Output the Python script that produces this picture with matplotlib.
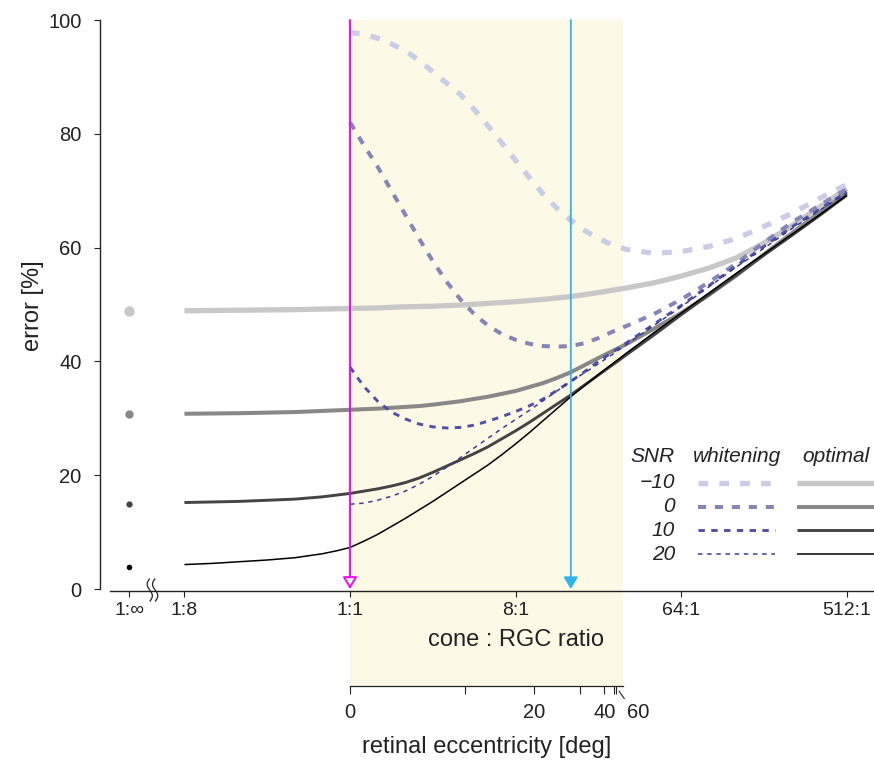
import numpy as np
import matplotlib
matplotlib.use("Agg")
import matplotlib.pyplot as plt
import matplotlib.transforms as mtransforms

plt.rcParams["font.family"] = ["Liberation Sans", "DejaVu Sans"]
plt.rcParams["lines.scale_dashes"] = False
plt.rcParams["lines.solid_capstyle"] = "butt"

# x axis is log2 of the cone:RGC ratio
ratio_ticks = [-4.0, -3, 0, 3, 6, 9]
ratio_labels = ["1:\u221e", "1:8", "1:1", "8:1", "64:1", "512:1"]
inf_x = -4.0
break_x = -3.58

# eccentricity [deg] and where it sits on the ratio axis
ecc_vals = [0, 10, 20, 30, 40, 50, 60]
ecc_pos = [0, 2.08, 3.33, 4.17, 4.61, 4.78, 4.81]
ecc_labelled = [0, 20, 40]
ecc_end = 4.94

marker_lines = [0.0, 4.0]  # magenta, cyan

snr_labels = ["\u221210", "0", "10", "20"]

x_white = [0, 0.25, 0.5, 0.75, 1, 1.25, 1.5, 1.75, 2, 2.25, 2.5, 2.75, 3,
           3.25, 3.5, 3.75, 4, 4.25, 4.5, 4.75, 5, 5.5, 6, 6.5, 7, 7.5, 8,
           8.5, 9]
white_m10 = [97.8, 97.5, 96.8, 95.8, 94.6, 92.9, 90.9, 88.9, 86.9, 84.3, 81.4,
             78.4, 75.3, 72.3, 69.4, 66.9, 64.8, 63.0, 61.6, 60.5, 59.7, 59.0,
             59.3, 60.2, 61.6, 63.7, 66.0, 68.6, 71.1]
white_0 = [82.0, 78.0, 74.2, 70.0, 65.8, 61.6, 57.6, 54.0, 50.9, 48.3, 46.3,
           44.8, 43.8, 43.1, 42.7, 42.6, 42.7, 43.2, 44.1, 45.2, 46.2, 48.3,
           50.9, 53.9, 57.2, 60.9, 64.4, 67.4, 70.3]
white_10 = [39.0, 35.6, 33.0, 31.1, 29.9, 29.0, 28.5, 28.3, 28.4, 28.8, 29.5,
            30.3, 31.2, 32.2, 33.4, 34.9, 36.5, 38.2, 40.0, 41.6, 43.2, 46.5,
            49.8, 53.3, 56.8, 60.2, 63.6, 66.7, 69.8]
white_20 = [14.9, 15.1, 15.6, 16.3, 17.2, 18.4, 19.8, 21.4, 23.1, 24.8, 26.5,
            28.2, 29.8, 31.4, 33.1, 34.8, 36.5, 38.0, 39.6, 41.2, 42.9, 46.3,
            49.6, 53.1, 56.6, 59.9, 63.3, 66.5, 69.6]

x_opt = [-3, -2.5, -2, -1.5, -1, -0.5, -0.25, 0, 0.25, 0.5, 0.75, 1, 1.25,
         1.5, 1.75, 2, 2.25, 2.5, 2.75, 3, 3.25, 3.5, 3.75, 4, 4.5, 5, 5.5,
         6, 6.5, 7, 7.5, 8, 8.5, 9]
opt_m10 = [48.9, 48.95, 49.0, 49.05, 49.1, 49.2, 49.25, 49.3, 49.35, 49.4,
           49.5, 49.6, 49.65, 49.7, 49.8, 49.9, 50.05, 50.2, 50.35, 50.5,
           50.7, 50.9, 51.15, 51.4, 52.1, 52.9, 53.8, 55.0, 56.4, 58.2, 60.8,
           63.8, 67.1, 70.4]
opt_0 = [30.8, 30.85, 30.9, 31.0, 31.1, 31.3, 31.4, 31.5, 31.6, 31.7, 31.85,
         32.0, 32.15, 32.4, 32.7, 33.0, 33.4, 33.8, 34.3, 34.8, 35.5, 36.2,
         37.1, 38.1, 40.6, 43.0, 45.7, 48.5, 51.7, 55.1, 58.8, 62.5, 66.1,
         69.6]
opt_10 = [15.2, 15.3, 15.4, 15.6, 15.8, 16.2, 16.5, 16.8, 17.2, 17.6, 18.1,
          18.7, 19.5, 20.5, 21.6, 22.7, 23.8, 25.0, 26.4, 27.8, 29.3, 30.9,
          32.5, 34.1, 37.6, 41.1, 44.6, 48.2, 51.7, 55.2, 58.7, 62.1, 65.6,
          69.2]
opt_20 = [4.3, 4.5, 4.8, 5.1, 5.5, 6.2, 6.7, 7.3, 8.4, 9.6, 11.0, 12.4, 13.9,
          15.4, 17.0, 18.6, 20.2, 21.8, 23.6, 25.5, 27.5, 29.6, 31.7, 33.8,
          37.7, 41.4, 45.0, 48.5, 52.0, 55.5, 58.9, 62.3, 65.7, 69.2]
inf_vals = [48.9, 30.7, 15.0, 3.9]

white_series = [white_m10, white_0, white_10, white_20]
opt_series = [opt_m10, opt_0, opt_10, opt_20]

white_colors = ["#cccce6", "#8585b8", "#5050a8", "#3c3c96"]
opt_colors = ["#c8c8c8", "#888888", "#444444", "#000000"]
widths = [3.8, 2.9, 2.1, 1.1]
dashes = [(7.0, 8.0), (5.8, 6.4), (4.6, 4.6), (3.2, 3.4)]
dot_sizes = [7.5, 6, 4.5, 4]

ink = "#222222"

fig = plt.figure(figsize=(8.74, 7.62), dpi=100)
W, H = 874, 762
ax = fig.add_axes([100 / W, 1 - 590.5 / H, 773 / W, 570.5 / H])
ax.set_xlim(-4.53, 9.475)
ax.set_ylim(-0.26, 100)

# shaded eccentricity range
ax.axvspan(0, ecc_end, ymin=-(686 - 590.5) / 570.5, ymax=1, color="#fdf9e7",
           lw=0, zorder=0, clip_on=False)

for ys, c, lw in zip(opt_series, opt_colors, widths):
    ax.plot(x_opt, ys, color=c, lw=lw, zorder=3)
for ys, c, lw, d in zip(white_series, white_colors, widths, dashes):
    ax.plot(x_white, ys, color=c, lw=lw, dashes=d, zorder=4)
for v, c, s in zip(inf_vals, opt_colors, dot_sizes):
    ax.plot([inf_x], [v], "o", color=c, ms=s, mec="none", zorder=3)

# vertical markers with arrow heads
ax.annotate("", xy=(marker_lines[0], 0), xytext=(marker_lines[0], 100),
            arrowprops=dict(arrowstyle="-|>,head_length=0.4,head_width=0.24",
                            mutation_scale=18, color="#ff00ff", fc="white",
                            lw=1.4, shrinkA=0, shrinkB=0),
            zorder=6, annotation_clip=False)
ax.annotate("", xy=(marker_lines[1], 0), xytext=(marker_lines[1], 100),
            arrowprops=dict(arrowstyle="-|>,head_length=0.4,head_width=0.24",
                            mutation_scale=18, color="#2cb5e8",
                            lw=1.3, shrinkA=0, shrinkB=0),
            zorder=6, annotation_clip=False)

for s in ["top", "right"]:
    ax.spines[s].set_visible(False)
ax.spines["left"].set_bounds(0, 100)
ax.spines["bottom"].set_bounds(-4.35, 9.475)
for s in ["left", "bottom"]:
    ax.spines[s].set_color(ink)
    ax.spines[s].set_linewidth(1.0)

ax.set_yticks([0, 20, 40, 60, 80, 100])
ax.set_xticks(ratio_ticks)
ax.set_xticklabels(ratio_labels)
ax.tick_params(axis="y", length=4.3, width=0.8, pad=9, labelsize=14.5,
               colors=ink)
ax.tick_params(axis="x", length=4.5, width=0.8, pad=3.5, labelsize=14,
               colors=ink)
ax.set_ylabel("error [%]", fontsize=17, color=ink, labelpad=3)

ax.text(3, (590.5 - 640) / 570.5, "cone : RGC ratio",
        transform=ax.get_xaxis_transform(),
        ha="center", va="center", fontsize=17, color=ink)

# axis break marks
t = np.linspace(0, 1, 60)
brk = fig.dpi_scale_trans + mtransforms.ScaledTranslation(
    break_x, 0, mtransforms.blended_transform_factory(ax.transData, ax.transAxes))
for off in (-0.027, 0.027):
    ax.plot(off + 0.026 * np.sin(2 * np.pi * t), -0.11 + 0.23 * t,
            color=ink, lw=0.9, transform=brk, clip_on=False, zorder=5)

# legend
def fx(px):
    return (px - 100) / 773


def fy(py):
    return (590.5 - py) / 570.5


lg = dict(transform=ax.transAxes, fontsize=15, style="italic", color=ink,
          va="center")
ax.text(fx(675), fy(456), "SNR", ha="right", **lg)
ax.text(fx(737), fy(456), "whitening", ha="center", **lg)
ax.text(fx(836), fy(456), "optimal", ha="center", **lg)
for i, lab in enumerate(snr_labels):
    yy = fy(483 + 23.7 * i)
    ax.text(fx(675), yy, lab, ha="right", **lg)
    ax.plot([fx(698), fx(775)], [yy, yy], transform=ax.transAxes,
            color=white_colors[i], lw=widths[i], dashes=dashes[i], clip_on=False)
    ax.plot([fx(797), fx(874)], [yy, yy], transform=ax.transAxes,
            color=opt_colors[i], lw=widths[i], clip_on=False)

# eccentricity axis
ax2 = fig.add_axes([100 / W, 1 - 686 / H, 773 / W, 0.0001])
ax2.set_xlim(ax.get_xlim())
ax2.patch.set_visible(False)
for s in ["top", "right", "left"]:
    ax2.spines[s].set_visible(False)
ax2.spines["bottom"].set_bounds(0, ecc_end)
ax2.spines["bottom"].set_color(ink)
ax2.spines["bottom"].set_linewidth(0.9)
ax2.set_yticks([])
major = [p for p, v in zip(ecc_pos, ecc_vals) if v in ecc_labelled]
minor = [p for p, v in zip(ecc_pos, ecc_vals) if v not in ecc_labelled]
ax2.set_xticks(major)
ax2.set_xticklabels([str(v) for v in ecc_labelled])
ax2.set_xticks(minor, minor=True)
ax2.tick_params(axis="x", which="both", length=5.8, width=0.8, pad=6.5,
                labelsize=14.5, colors=ink)
ax2.annotate("60", xy=(ecc_pos[-1], 0), xycoords=ax2.get_xaxis_transform(),
             xytext=(11.5, -16.5), textcoords="offset pixels",
             ha="left", va="top", fontsize=14.5, color=ink,
             arrowprops=dict(arrowstyle="-", color=ink, lw=0.8,
                             shrinkA=1, shrinkB=4.5, relpos=(0, 1)),
             annotation_clip=False)
ax2.text(ecc_end / 2, 1 - 747 / H, "retinal eccentricity [deg]",
         transform=mtransforms.blended_transform_factory(ax2.transData,
                                                         fig.transFigure),
         ha="center", va="center", fontsize=17, color=ink)

fig.savefig("out.png", dpi=100)
